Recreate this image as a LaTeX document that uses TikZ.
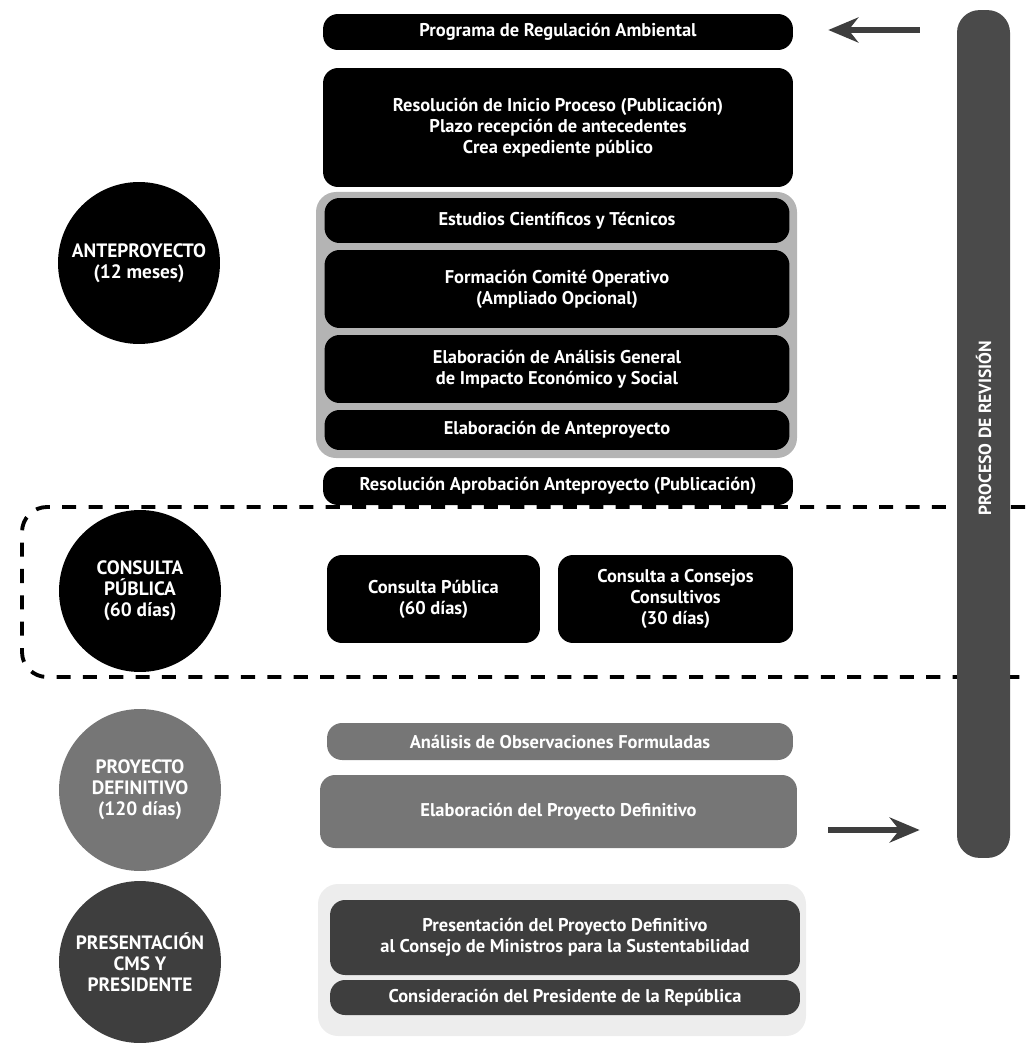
\documentclass[tikz,border=0pt]{standalone}
\usepackage{fontspec}
\setmainfont{PT Sans}
\usepackage{tikz}
\usetikzlibrary{arrows.meta}
\definecolor{grisclaro}{HTML}{B4B4B4}
\definecolor{grismedio}{HTML}{767676}
\definecolor{grisoscuro}{HTML}{3E3E3E}
\definecolor{grisbarra}{HTML}{4A4A4A}
\definecolor{grisfondo}{HTML}{EDEDED}
\tikzset{
  caja/.style={fill=black, rounded corners=0.3cm, text=white, align=center, inner sep=0pt, font=\fontsize{10.5}{12}\selectfont\bfseries},
  cajagris/.style={caja, fill=grismedio},
  cajaosc/.style={caja, fill=grisoscuro},
  etapa/.style={circle, fill=black, minimum size=3.24cm, inner sep=0pt, text=white, align=center, font=\fontsize{11}{12}\selectfont\bfseries},
  flecha/.style={line width=3pt, grisoscuro, -{Stealth[length=0.6cm, width=0.5cm]}},
}

\begin{document}
\begin{tikzpicture}[x=0.02cm, y=-0.02cm]
\useasboundingbox (0,0) rectangle (1025,1044);
%\node {\includegraphics{regulacion.jpg}};

\draw[black, dashed, line width=2.2pt, dash pattern=on 8pt off 7pt, rounded corners=0.5cm] (1025,507)--(22,507)--(22,677)--(1025,677);

\draw[fill=grisclaro, draw=none, rounded corners=0.4cm] (316,192) rectangle (797,458);
\draw[fill=grisfondo, draw=none, rounded corners=0.4cm] (318,884) rectangle (806,1036);

\node[caja, minimum width=9.4cm, minimum height=0.72cm] (prog) at (558,32) {Programa de Regulación Ambiental};
\node[caja, minimum width=9.4cm, minimum height=2.38cm] (inicio) at (558,127.5) {Resolución de Inicio Proceso (Publicación)\\Plazo recepción de antecedentes\\Crea expediente público};
\node[caja, minimum width=9.3cm, minimum height=0.9cm] (estudios) at (557,220.5) {Estudios Científicos y Técnicos};
\node[caja, minimum width=9.3cm, minimum height=1.56cm] (comite) at (557,289) {Formación Comité Operativo\\(Ampliado Opcional)};
\node[caja, minimum width=9.3cm, minimum height=1.36cm] (analisis) at (557,369) {Elaboración de Análisis General\\de Impacto Económico y Social};
\node[caja, minimum width=9.3cm, minimum height=0.8cm] (elabante) at (557,430) {Elaboración de Anteproyecto};
\node[caja, minimum width=9.4cm, minimum height=0.76cm] (aprob) at (558,486) {Resolución Aprobación Anteproyecto (Publicación)};

\node[caja, minimum width=4.26cm, minimum height=1.76cm] (consulta) at (433.5,599) {Consulta Pública\\(60 días)};
\node[caja, minimum width=4.7cm, minimum height=1.76cm] (consejos) at (675.5,599) {Consulta a Consejos\\Consultivos\\(30 días)};

\node[cajagris, minimum width=9.32cm, minimum height=0.74cm] (observ) at (560,741.5) {Análisis de Observaciones Formuladas};
\node[cajagris, minimum width=9.54cm, minimum height=1.46cm] (elabdef) at (558.5,811.5) {Elaboración del Proyecto Definitivo};

\node[cajaosc, minimum width=9.4cm, minimum height=1.5cm] (presenta) at (565,937.5) {Presentación del Proyecto Definitivo\\al Consejo de Ministros para la Sustentabilidad};
\node[cajaosc, minimum width=9.4cm, minimum height=0.7cm] (presidente) at (565,997.5) {Consideración del Presidente de la República};

\node[etapa] (ante) at (139,263) {ANTEPROYECTO\\(12 meses)};
\node[etapa] (publica) at (140,591) {CONSULTA\\PÚBLICA\\(60 días)};
\node[etapa, fill=grismedio] (definitivo) at (140,790) {PROYECTO\\DEFINITIVO\\(120 días)};
\node[etapa, fill=grisoscuro] (cms) at (140,962) {PRESENTACIÓN\\CMS Y\\PRESIDENTE};

\node[fill=grisbarra, rounded corners=0.45cm, minimum width=1.06cm, minimum height=16.96cm, inner sep=0pt] (revision) at (983.5,434) {};
\node[rotate=90, text=white, font=\fontsize{10}{11}\selectfont\bfseries] (revtxt) at (983.5,428) {PROCESO DE REVISIÓN};

\coordinate (flechaa) at (0,30);
\coordinate (flechab) at (0,830);
\draw[flecha, shorten <=0.74cm, shorten >=0.7cm] (revision.west |- flechaa) -- (prog.east |- flechaa);
\draw[flecha, shorten <=0.62cm, shorten >=0.74cm] (elabdef.east |- flechab) -- (revision.west |- flechab);

\end{tikzpicture}
\end{document}
